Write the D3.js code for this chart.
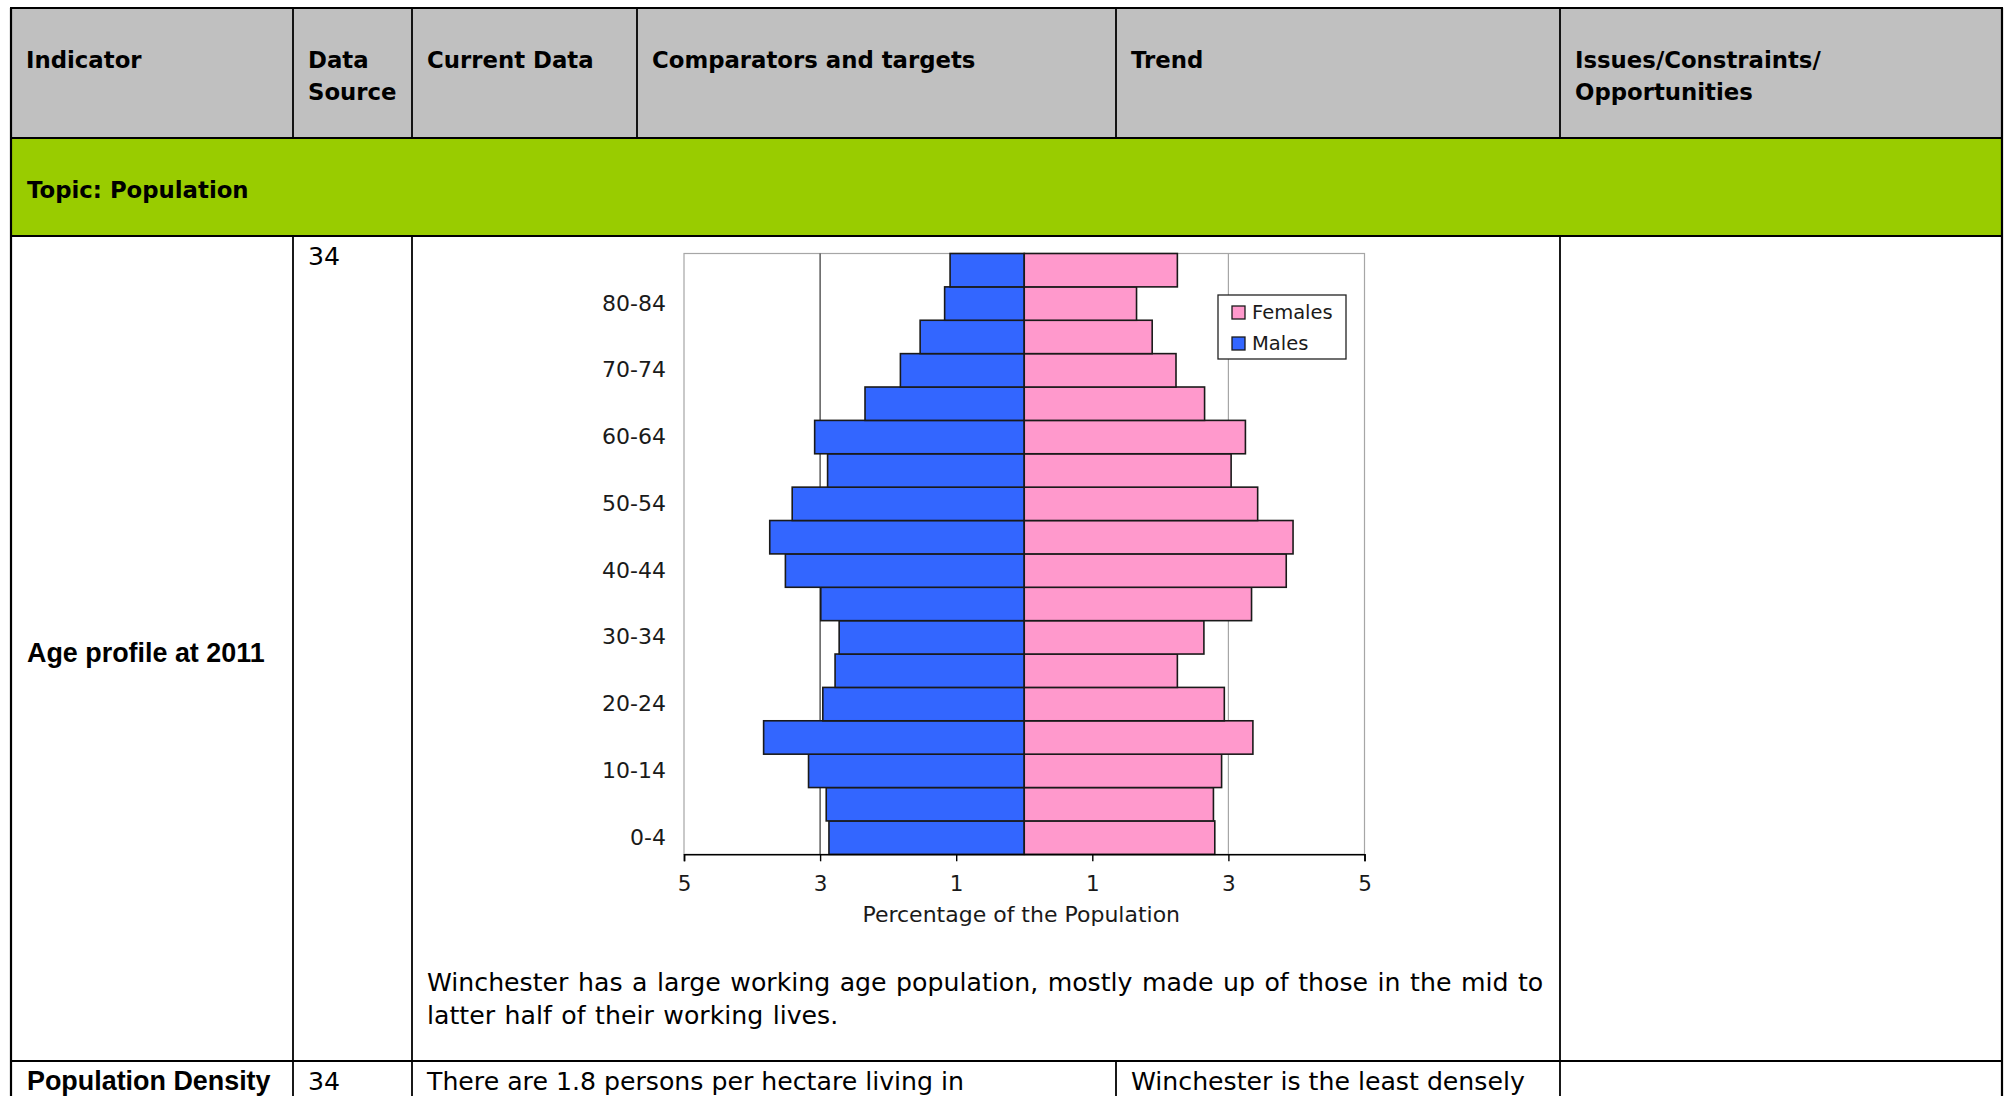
<!DOCTYPE html>
<html>
<head>
<meta charset="utf-8">
<script src="https://cdn.jsdelivr.net/npm/d3@7"></script>
<style>
  html, body { margin: 0; padding: 0; background: #fff; }
  svg { display: block; }
  .cell-text { font-family: "DejaVu Sans", sans-serif; fill: #000; }
  .hdr { font-weight: bold; font-size: 22.8px; }
  .body { font-size: 25.2px; }
  .note { word-spacing: 1.5px; }
  .ind { font-family: "Liberation Sans", Arial, sans-serif; font-weight: bold; font-size: 26.9px; fill: #000; }
  .chart text { font-family: "DejaVu Sans", Verdana, sans-serif; fill: #1a1a1a; }
</style>
</head>
<body>
<svg id="page" width="2009" height="1096"></svg>
<script>
// Age bands, youngest first
const ageGroups = ["0-4","5-9","10-14","15-19","20-24","25-29","30-34","35-39","40-44",
                   "45-49","50-54","55-59","60-64","65-69","70-74","75-79","80-84","85+"];
// Share of the 2011 population (%) in each band
const malePct   = [2.87, 2.91, 3.17, 3.83, 2.96, 2.78, 2.72, 2.99, 3.51, 3.74, 3.41, 2.89, 3.08, 2.34, 1.82, 1.53, 1.17, 1.09];
const femalePct = [2.80, 2.78, 2.90, 3.36, 2.94, 2.25, 2.64, 3.34, 3.85, 3.95, 3.43, 3.04, 3.25, 2.65, 2.23, 1.88, 1.65, 2.25];
const xTicks = [-5, -3, -1, 1, 3, 5];
const gridValues = [-3, -1, 1, 3];
const seriesNames = ["Females", "Males"];

// Table content
const headerLabels = [["Indicator"], ["Data", "Source"], ["Current Data"], ["Comparators and targets"], ["Trend"], ["Issues/Constraints/", "Opportunities"]];
const topicLabel = "Topic: Population";
const indicatorLabels = ["Age profile at 2011", "Population Density"];
const sourceLabels = ["34", "34"];
const ageNote = ["Winchester has a large working age population, mostly made up of those in the mid to",
                 "latter half of their working lives."];
const densityCurrent = "There are 1.8 persons per hectare living in";
const densityComparator = "Winchester is the least densely";

const svg = d3.select("#page");

// ---------- table frame ----------
const colX = [11, 293, 412, 637, 1116, 1560, 2002];
const rowY = [8, 138, 236, 1061, 1100];
const pad = 15;

svg.append("rect").attr("x", colX[0]).attr("y", rowY[0]).attr("width", colX[6] - colX[0]).attr("height", rowY[1] - rowY[0]).attr("fill", "#c0c0c0");
svg.append("rect").attr("x", colX[0]).attr("y", rowY[1]).attr("width", colX[6] - colX[0]).attr("height", rowY[2] - rowY[1]).attr("fill", "#99cc00");

const grid = svg.append("g").attr("stroke", "#000");
[rowY[0], rowY[1], rowY[2], rowY[3]].forEach(y => {
  grid.append("line").attr("x1", colX[0] - 1).attr("x2", colX[6] + 1).attr("y1", y).attr("y2", y).attr("stroke-width", 2.2);
});
[colX[0], colX[6]].forEach(x => {
  grid.append("line").attr("x1", x).attr("x2", x).attr("y1", rowY[0]).attr("y2", 1096).attr("stroke-width", 2.2);
});
// inner verticals per row
const innerCols = [
  {cols: [1, 2, 3, 4, 5], y0: rowY[0], y1: rowY[1]},
  {cols: [1, 2, 5],       y0: rowY[2], y1: rowY[3]},
  {cols: [1, 2, 4, 5],    y0: rowY[3], y1: 1096}
];
innerCols.forEach(r => r.cols.forEach(c => {
  grid.append("line").attr("x1", colX[c]).attr("x2", colX[c]).attr("y1", r.y0).attr("y2", r.y1).attr("stroke-width", 1.8);
}));

// header labels
headerLabels.forEach((lines, i) => {
  const t = svg.append("text").attr("class", "cell-text hdr").attr("x", colX[i] + pad).attr("y", 68);
  lines.forEach((l, j) => t.append("tspan").attr("x", colX[i] + pad).attr("y", 68 + j * 32).text(l));
});
svg.append("text").attr("class", "cell-text hdr").attr("x", colX[0] + pad + 1).attr("y", 198).text(topicLabel);

// row labels
svg.append("text").attr("class", "ind").attr("x", colX[0] + pad + 1).attr("y", 662).text(indicatorLabels[0]);
svg.append("text").attr("class", "ind").attr("x", colX[0] + pad + 1).attr("y", 1090).text(indicatorLabels[1]);
svg.append("text").attr("class", "cell-text body").attr("x", colX[1] + pad).attr("y", 265).text(sourceLabels[0]);
svg.append("text").attr("class", "cell-text body").attr("x", colX[1] + pad).attr("y", 1090).text(sourceLabels[1]);
ageNote.forEach((l, j) => {
  svg.append("text").attr("class", "cell-text body note").attr("x", colX[2] + pad).attr("y", 991 + j * 33).text(l);
});
svg.append("text").attr("class", "cell-text body").attr("x", colX[2] + pad).attr("y", 1090).text(densityCurrent);
svg.append("text").attr("class", "cell-text body").attr("x", colX[4] + pad).attr("y", 1090).text(densityComparator);

// ---------- population pyramid ----------
const plot = {left: 684, right: 1364.5, top: 253.5, bottom: 854.3};
const chart = svg.append("g").attr("class", "chart");

const x = d3.scaleLinear().domain([-5, 5]).range([plot.left, plot.right]);
const y = d3.scaleBand().domain(ageGroups).range([plot.bottom, plot.top]).padding(0);

const rows = ageGroups.map((g, i) => ({group: g, male: malePct[i], female: femalePct[i]}));

// plot frame
chart.append("rect").attr("x", plot.left).attr("y", plot.top)
  .attr("width", plot.right - plot.left).attr("height", plot.bottom - plot.top)
  .attr("fill", "#fff").attr("stroke", "#a6a6a6").attr("stroke-width", 1.2);

// vertical gridlines
chart.append("g").selectAll("line").data(gridValues).join("line")
  .attr("x1", d => x(d)).attr("x2", d => x(d))
  .attr("y1", plot.top).attr("y2", plot.bottom)
  .attr("stroke", d => d === -3 ? "#333" : "#a6a6a6")
  .attr("stroke-width", 1.2);

// bars
const bars = chart.append("g").attr("stroke", "#1a1a1a").attr("stroke-width", 1.6);
bars.selectAll("rect.male").data(rows).join("rect").attr("class", "male")
  .attr("x", d => x(-d.male)).attr("width", d => x(0) - x(-d.male))
  .attr("y", d => y(d.group)).attr("height", y.bandwidth())
  .attr("fill", "#3366ff");
bars.selectAll("rect.female").data(rows).join("rect").attr("class", "female")
  .attr("x", x(0)).attr("width", d => x(d.female) - x(0))
  .attr("y", d => y(d.group)).attr("height", y.bandwidth())
  .attr("fill", "#ff99cc");

// x axis
const xAxis = chart.append("g").attr("transform", `translate(0,${plot.bottom})`)
  .call(d3.axisBottom(x).tickValues(xTicks).tickFormat(d => Math.abs(d)).tickSize(7).tickPadding(14));
xAxis.select(".domain").attr("stroke", "#000").attr("stroke-width", 1.6);
xAxis.selectAll(".tick line").attr("stroke", "#000").attr("stroke-width", 1.4);
xAxis.selectAll("text").attr("font-size", 21.5).attr("font-family", "DejaVu Sans, Verdana, sans-serif").attr("fill", "#1a1a1a");

// y axis: every other band is labelled
const yAxis = chart.append("g").attr("transform", `translate(${plot.left},0)`)
  .call(d3.axisLeft(y).tickValues(ageGroups.filter((d, i) => i % 2 === 0)).tickSize(0).tickPadding(18));
yAxis.select(".domain").remove();
yAxis.selectAll("text").attr("font-size", 22).attr("font-family", "DejaVu Sans, Verdana, sans-serif").attr("fill", "#1a1a1a");

// axis title
chart.append("text").attr("x", x(0) - 3).attr("y", 922).attr("text-anchor", "middle")
  .attr("font-size", 22).text("Percentage of the Population");

// legend
const legend = chart.append("g").attr("transform", "translate(1218,295)");
legend.append("rect").attr("width", 128).attr("height", 64).attr("fill", "#fff").attr("stroke", "#222").attr("stroke-width", 1.3);
const legendColors = ["#ff99cc", "#3366ff"];
seriesNames.forEach((name, i) => {
  legend.append("rect").attr("x", 14).attr("y", 11 + i * 31).attr("width", 13).attr("height", 13)
    .attr("fill", legendColors[i]).attr("stroke", "#1a1a1a").attr("stroke-width", 1.3);
  legend.append("text").attr("x", 34).attr("y", 17 + i * 31).attr("dy", "0.35em")
    .attr("font-size", 19.5).text(name);
});
</script>
</body>
</html>
